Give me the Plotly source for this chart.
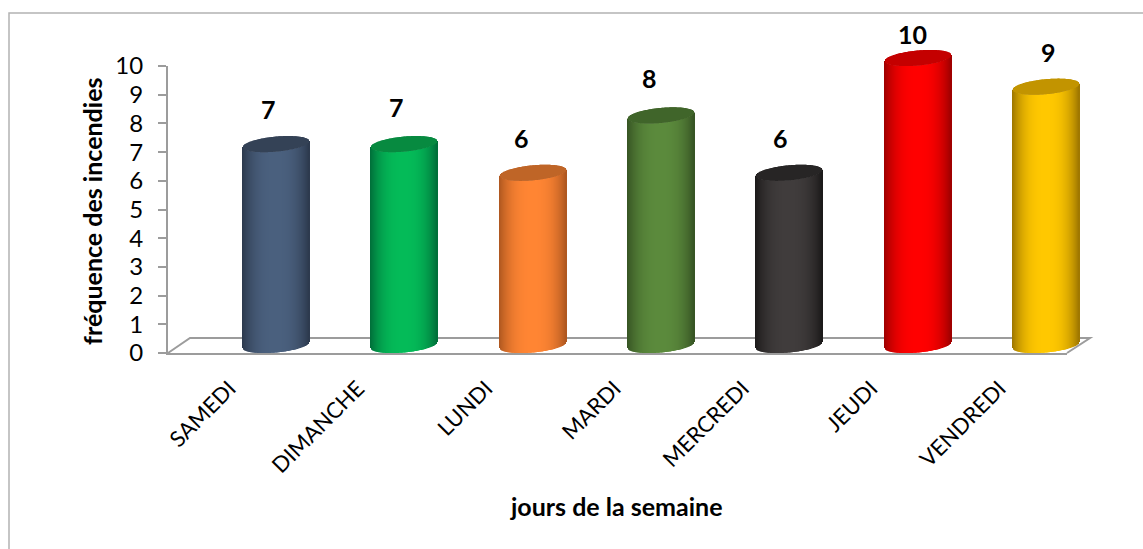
import numpy as np
import plotly.graph_objects as go

DAYS = ["SAMEDI", "DIMANCHE", "LUNDI", "MARDI", "MERCREDI", "JEUDI", "VENDREDI"]
FREQUENCY = [7, 7, 6, 8, 6, 10, 9]

# cylinder colours: middle of the body, edge of the body, top cap
BODY_MID = ["#4a607e", "#04bb58", "#ff8533", "#5b8a3c", "#403c3c", "#ff0000", "#ffc800"]
BODY_EDGE = ["#2d3a4e", "#00703a", "#b05820", "#375524", "#1c1a1a", "#a00000", "#a07800"]
BODY_CAP = ["#344256", "#078a40", "#bf6527", "#40652a", "#272525", "#c40000", "#c29400"]

# hand moved data labels, in pixels from the top of the bar
LABEL_DX = [-8, -8, -11, -12, -9, -5, 2]
LABEL_DY = [35, 37, 35, 37, 35, 24, 35]

W, H = 1143, 549
FONT = "Lato"
GREY = "#9c9c9c"

# pixel layout of the plot
LEFT, RIGHT, TOP, BOTTOM = 168, 1067, 66, 353
UNIT_X = 128.35       # px between two categories
UNIT_Y = (BOTTOM - TOP) / 10
FIRST_BAR = 276       # px of the first bar centre
BAR_BASE = 345        # bars stand in the middle of the floor depth
RADIUS = 33
MINOR = 7.5
TILT = 3.0
LABEL_SHIFT = -0.362  # rotated day labels end left of their bar
# the bars get their own wider subplot so nothing is cut at the axes
BAR_LEFT, BAR_RIGHT, BAR_TOP, BAR_BOTTOM = 168, 1100, 30, 365


def px(x):
    return x / W


def py(y):
    return 1 - y / H


def hex_rgb(c):
    return np.array([int(c[k:k + 2], 16) for k in (1, 3, 5)])


def mix(c1, c2, u):
    r = hex_rgb(c1) * (1 - u) + hex_rgb(c2) * u
    return "rgb(%d,%d,%d)" % tuple(r.round())


fig = go.Figure()

tick_pos = [i + LABEL_SHIFT for i in range(len(DAYS))]

# empty trace so the visible axes get drawn
fig.add_trace(go.Scatter(x=tick_pos, y=FREQUENCY, mode="none", hoverinfo="skip", showlegend=False))

t = np.arange(-RADIUS, RADIUS + 0.5, 1.0)
half = MINOR * np.sqrt(np.clip(1 - (t / RADIUS) ** 2, 0, 1))
lower = (TILT * t / RADIUS - half) / UNIT_Y
strip = 1.15 / UNIT_X

for i, val in enumerate(FREQUENCY):
    xs = i + t / UNIT_X
    shade = [mix(BODY_MID[i], BODY_EDGE[i], abs(k / RADIUS) ** 2.6) for k in t]
    fig.add_trace(go.Bar(x=xs, y=[val] * len(t), base=lower, width=strip, xaxis="x2", yaxis="y2",
                         marker=dict(color=shade, line_width=0),
                         cliponaxis=False, hoverinfo="skip", showlegend=False))
    fig.add_trace(go.Bar(x=xs, y=2 * half / UNIT_Y, base=val + lower, width=strip, xaxis="x2", yaxis="y2",
                         marker=dict(color=BODY_CAP[i], line_width=0),
                         cliponaxis=False, hoverinfo="skip", showlegend=False))
    fig.add_annotation(x=i, y=val, xref="x2", yref="y2", text=str(val), showarrow=False,
                       xshift=LABEL_DX[i], yshift=LABEL_DY[i],
                       font=dict(family=FONT, size=25, color="black", weight="bold"))

# axis titles
fig.add_annotation(x=px(616), y=py(506), xref="paper", yref="paper", text="jours de la semaine",
                   xanchor="center", yanchor="middle", showarrow=False,
                   font=dict(family=FONT, size=25, color="black", weight="bold"))
fig.add_annotation(x=px(92), y=py(212), xref="paper", yref="paper", text="fréquence des incendies",
                   xanchor="center", yanchor="middle", textangle=-90, showarrow=False,
                   font=dict(family=FONT, size=25, color="black", weight="bold"))

# floor of the 3D box and outer frame
floor = "M %f,%f L %f,%f L %f,%f L %f,%f" % (px(LEFT), py(BOTTOM), px(190), py(338),
                                             px(1090), py(338), px(RIGHT), py(BOTTOM))
fig.add_shape(type="path", path=floor, xref="paper", yref="paper", layer="below",
              line=dict(color=GREY, width=2))
fig.add_shape(type="rect", x0=px(9), x1=px(1200), y0=py(13), y1=py(600), xref="paper", yref="paper",
              layer="below", line=dict(color="#b3b3b3", width=1.5))

fig.update_layout(
    width=W, height=H, margin=dict(l=0, r=0, t=0, b=0), barmode="overlay",
    paper_bgcolor="white", plot_bgcolor="rgba(0,0,0,0)", showlegend=False,
    xaxis=dict(domain=[px(LEFT), px(RIGHT)], automargin=False,
               range=[(LEFT - FIRST_BAR) / UNIT_X, (RIGHT - FIRST_BAR) / UNIT_X],
               tickmode="array", tickvals=tick_pos, ticktext=DAYS,
               tickangle=-45, ticks="outside", ticklen=12, tickcolor="rgba(0,0,0,0)",
               tickfont=dict(family=FONT, size=22, color="black"),
               showgrid=False, zeroline=False, showline=True, linecolor=GREY, linewidth=2),
    yaxis=dict(domain=[py(BOTTOM), py(TOP)], range=[0, 10], dtick=1, automargin=False,
               ticks="outside", ticklen=8, tickwidth=2, tickcolor=GREY,
               ticklabelstandoff=10,
               tickfont=dict(family=FONT, size=24, color="black"),
               showgrid=False, zeroline=False, showline=True, linecolor=GREY, linewidth=2),
    xaxis2=dict(domain=[px(BAR_LEFT), px(BAR_RIGHT)], anchor="y2", visible=False, automargin=False,
                range=[(BAR_LEFT - FIRST_BAR) / UNIT_X, (BAR_RIGHT - FIRST_BAR) / UNIT_X]),
    yaxis2=dict(domain=[py(BAR_BOTTOM), py(BAR_TOP)], anchor="x2", visible=False, automargin=False,
                range=[(BAR_BASE - BAR_BOTTOM) / UNIT_Y, (BAR_BASE - BAR_TOP) / UNIT_Y]),
)

fig.write_html("out.html", config=dict(displayModeBar=False),
               post_script="document.body.style.margin='0';")
